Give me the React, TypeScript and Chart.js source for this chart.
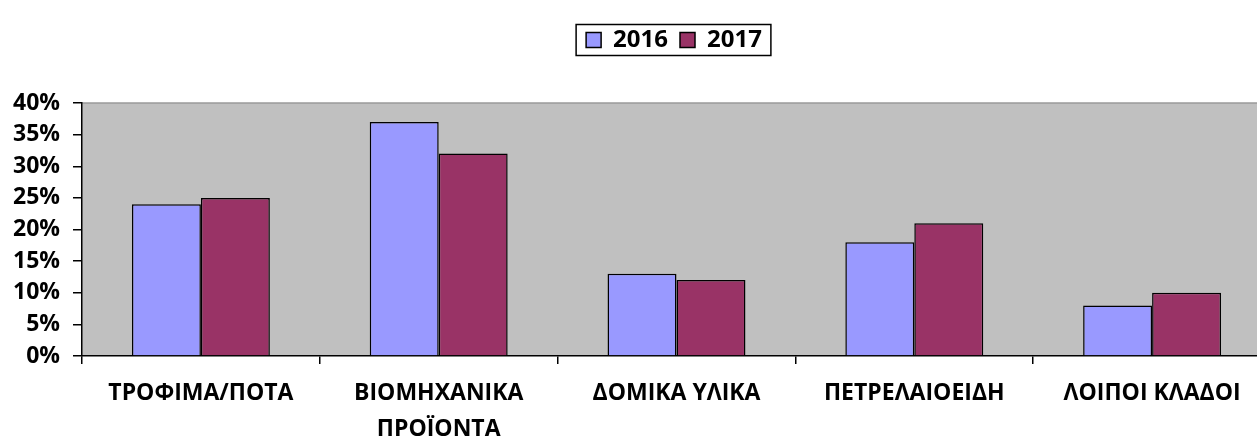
import React, { useEffect, useRef } from "react";
import { Chart, registerables } from "chart.js";

Chart.register(...registerables);

const categories: (string | string[])[] = [
  "ΤΡΟΦΙΜΑ/ΠΟΤΑ",
  ["ΒΙΟΜΗΧΑΝΙΚΑ", "ΠΡΟΪΟΝΤΑ"],
  "ΔΟΜΙΚΑ ΥΛΙΚΑ",
  "ΠΕΤΡΕΛΑΙΟΕΙΔΗ",
  "ΛΟΙΠΟΙ ΚΛΑΔΟΙ",
];
const values2016 = [24, 37, 13, 18, 8];
const values2017 = [25, 32, 12, 21, 10];
const seriesLabels = ["2016", "2017"];
const yMax = 40;
const yStep = 5;

const FONT = "'Open Sans', 'DejaVu Sans', sans-serif";

const bgPlugin = {
  id: "plotBg",
  beforeDraw(chart: any) {
    const { ctx, chartArea } = chart;
    ctx.save();
    ctx.fillStyle = "#C0C0C0";
    ctx.fillRect(chartArea.left, chartArea.top, chartArea.right - chartArea.left, chartArea.bottom - chartArea.top);
    ctx.strokeStyle = "#9A9A9A";
    ctx.lineWidth = 1.5;
    ctx.beginPath();
    ctx.moveTo(chartArea.left, chartArea.top);
    ctx.lineTo(chartArea.right, chartArea.top);
    ctx.stroke();
    ctx.restore();
  },
};

const legendPlugin = {
  id: "legendFrame",
  afterInit(chart: any) {
    const lg = chart.legend;
    if (lg && !lg.__patched) {
      const orig = lg.fit.bind(lg);
      lg.fit = function () {
        orig();
        this.height = 103 - 16;
      };
      lg.__patched = true;
    }
  },
  afterLayout(chart: any) {
    const lg = chart.legend;
    if (lg) {
      lg.left = 77;
      lg.width = lg.right - lg.left;
    }
  },
  afterDraw(chart: any) {
    const lg = chart.legend;
    if (!lg || !lg.legendHitBoxes || !lg.legendHitBoxes.length) return;
    const boxes = lg.legendHitBoxes;
    const first = boxes[0];
    const last = boxes[boxes.length - 1];
    const left = first.left - 10;
    const right = last.left + last.width + 9;
    const cy = first.top + first.height / 2;
    const { ctx } = chart;
    ctx.save();
    ctx.strokeStyle = "#000";
    ctx.lineWidth = 1.5;
    ctx.strokeRect(left, cy - 15.5, right - left, 31);
    ctx.restore();
  },
};

export default function App() {
  const ref = useRef<HTMLCanvasElement | null>(null);
  useEffect(() => {
    if (!ref.current) return;
    const chart = new Chart(ref.current, {
      type: "bar",
      data: {
        labels: categories,
        datasets: [
          {
            label: seriesLabels[0],
            data: values2016,
            backgroundColor: "#9999FF",
            borderColor: "#000000",
            borderWidth: 1.5,
          },
          {
            label: seriesLabels[1],
            data: values2017,
            backgroundColor: "#993366",
            borderColor: "#000000",
            borderWidth: 1.5,
          },
        ],
      },
      options: {
        animation: false,
        responsive: false,
        maintainAspectRatio: false,
        layout: { padding: { left: 0, right: 1, top: 16, bottom: 0 } },
        datasets: { bar: { categoryPercentage: 0.58, barPercentage: 1 } },
        plugins: {
          tooltip: { enabled: false },
          legend: {
            display: true,
            position: "top",
            labels: {
              color: "#000",
              font: { family: FONT, size: 24, weight: "bold" },
              boxWidth: 15,
              boxHeight: 15,
              padding: 12,
            },
          },
        },
        scales: {
          x: {
            afterFit: (s: any) => {
              s.height = 88;
            },
            border: { display: true, color: "#000", width: 1.5 },
            grid: {
              display: true,
              offset: true,
              drawOnChartArea: false,
              drawTicks: true,
              tickLength: 8,
              color: "#000",
              lineWidth: 1.5,
            },
            ticks: {
              color: "#000",
              font: { family: FONT, size: 23, weight: "bold", lineHeight: 1.55 },
              padding: 12,
              maxRotation: 0,
              autoSkip: false,
            },
          },
          y: {
            min: 0,
            max: yMax,
            afterFit: (s: any) => {
              s.width = 82;
            },
            border: { display: true, color: "#000", width: 1.5 },
            grid: {
              display: true,
              drawOnChartArea: false,
              drawTicks: true,
              tickLength: 9,
              color: "#000",
              lineWidth: 1.5,
            },
            ticks: {
              stepSize: yStep,
              autoSkip: false,
              color: "#000",
              font: { family: FONT, size: 23, weight: "bold", lineHeight: 1.0 },
              padding: 13,
              callback: (v: any) => `${v}%`,
            },
          },
        },
      },
      plugins: [bgPlugin, legendPlugin],
    });
    return () => chart.destroy();
  }, []);
  return (
    <div style={{ position: "absolute", left: 0, top: 0, width: 1257, height: 444, overflow: "hidden", background: "#fff" }}>
      <canvas ref={ref} width={1272} height={444} style={{ display: "block", width: 1272, height: 444 }} />
    </div>
  );
}
